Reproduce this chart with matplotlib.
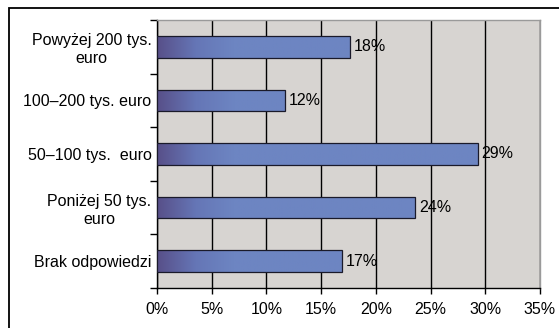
import numpy as np
import matplotlib
matplotlib.use('Agg')
import matplotlib.pyplot as plt
from matplotlib.patches import Rectangle
from matplotlib.colors import LinearSegmentedColormap

categories = ['Powyżej 200 tys.\neuro', '100–200 tys. euro', '50–100 tys.  euro',
              'Poniżej 50 tys.\neuro', 'Brak odpowiedzi']
values = [17.6, 11.7, 29.3, 23.6, 16.9]
labels = ['18%', '12%', '29%', '24%', '17%']
xticks = [0, 5, 10, 15, 20, 25, 30, 35]

plt.rcParams['font.family'] = ['Liberation Sans', 'DejaVu Sans']
fs = 11.5

fig = plt.figure(figsize=(5.59, 3.28), dpi=100)
fig.patch.set_facecolor('white')
ax = fig.add_axes([157 / 559, 1 - 288 / 328, 383 / 559, 268 / 328])
ax.set_facecolor('#d7d4d1')

# outer frame
fig.add_artist(Rectangle((9 / 559, -0.1), 1.2, 1.1 - 8 / 328, transform=fig.transFigure,
                         fill=False, edgecolor='black', linewidth=1.3))

n = len(categories)
ypos = np.arange(n)[::-1]
cmap = LinearSegmentedColormap.from_list('g', ['#585089', '#6576b6', '#6d85c2'])
xs = np.linspace(0, 35, 400)
grad = np.clip(xs / 7.0, 0, 1).reshape(1, -1)

for y, v, lab in zip(ypos, values, labels):
    rect = Rectangle((0, y - 0.2), v, 0.4, facecolor='none', edgecolor='#1a1a2a',
                     linewidth=0.9, zorder=4)
    ax.add_patch(rect)
    im = ax.imshow(grad, cmap=cmap, aspect='auto', extent=(0, 35, y - 0.2, y + 0.2),
                   vmin=0, vmax=1, zorder=3)
    im.set_clip_path(rect)
    ax.text(v + 0.35, y, lab, va='center', ha='left', fontsize=fs, zorder=5)

ax.set_xlim(0, 35)
ax.set_ylim(-0.5, n - 0.5)
ax.set_xticks(xticks)
ax.set_xticklabels([f'{t}%' for t in xticks], fontsize=fs)
ax.set_yticks(ypos)
ax.set_yticklabels(categories, fontsize=fs, multialignment='center')
ax.set_yticks(np.arange(n + 1) - 0.5, minor=True)
ax.tick_params(axis='y', which='major', length=0, pad=4)
ax.tick_params(axis='y', which='minor', length=5, width=1, direction='out')
ax.tick_params(axis='x', which='major', length=4, width=1, direction='out', pad=6)
ax.xaxis.grid(True, color='black', linewidth=1)
ax.set_axisbelow(True)
for s in ['left', 'bottom']:
    ax.spines[s].set_color('black')
    ax.spines[s].set_linewidth(1)
for s in ['top', 'right']:
    ax.spines[s].set_color('#9a9a9a')
    ax.spines[s].set_linewidth(1)

fig.savefig('out.png', dpi=100)
